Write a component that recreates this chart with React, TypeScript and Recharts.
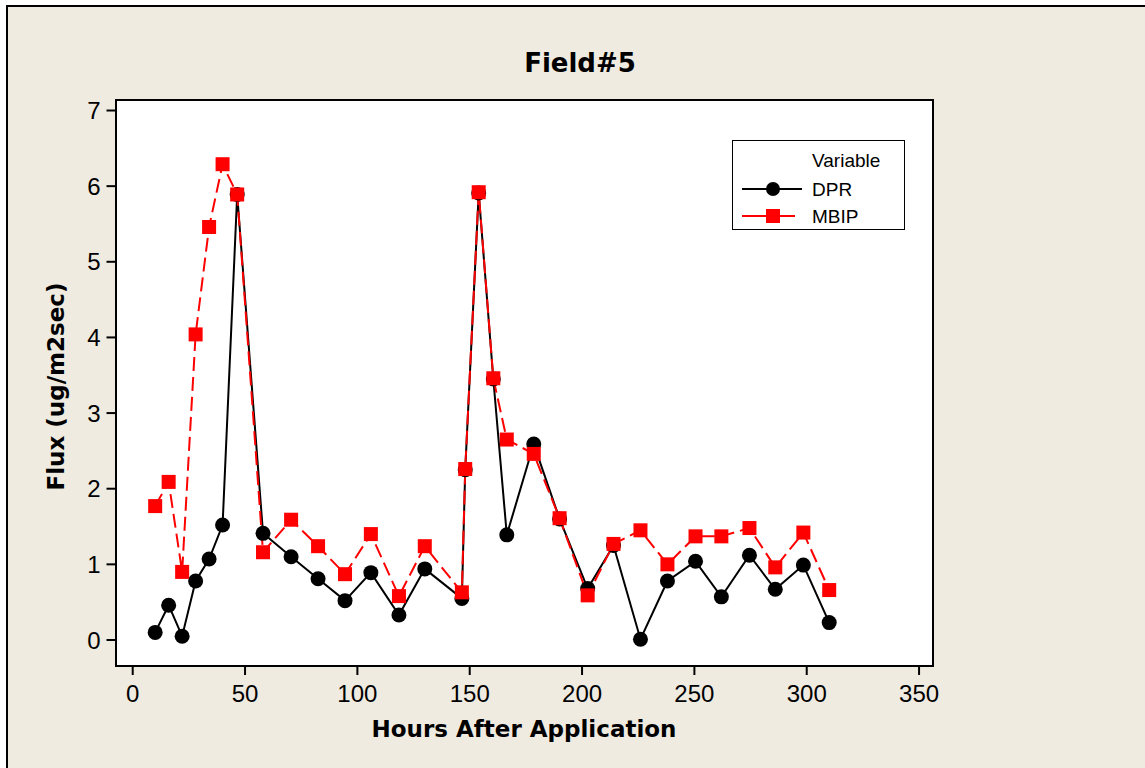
import React from "react";
import { Legend, Line, LineChart, XAxis, YAxis } from "recharts";

// hours after application (shared by both series)
const hours = [
	10, 16, 22, 28, 34, 40, 46.5, 58, 70.5, 82.5, 94.5, 106, 118.5, 130, 146.5, 148,
	154, 160.5, 166.5, 178.5, 190, 202.5, 214, 226, 238, 250.5, 262, 274.5, 286,
	298.5, 310,
];
const dpr = [
	0.1, 0.46, 0.05, 0.78, 1.07, 1.52, 5.89, 1.41, 1.1, 0.81, 0.52, 0.89, 0.33, 0.94,
	0.55, 2.25, 5.91, 3.45, 1.39, 2.59, 1.6, 0.68, 1.25, 0.01, 0.78, 1.04, 0.57, 1.12,
	0.67, 0.99, 0.23,
];
const mbip = [
	1.77, 2.09, 0.9, 4.04, 5.46, 6.29, 5.89, 1.16, 1.59, 1.24, 0.87, 1.4, 0.58, 1.24,
	0.63, 2.26, 5.92, 3.46, 2.65, 2.46, 1.61, 0.59, 1.27, 1.45, 1.0, 1.37, 1.37, 1.48,
	0.96, 1.42, 0.66,
];
const xTicks = [0, 50, 100, 150, 200, 250, 300, 350];
const yTicks = [0, 1, 2, 3, 4, 5, 6, 7];

const data = hours.map((h, i) => ({ hours: h, DPR: dpr[i], MBIP: mbip[i] }));

const BEIGE = "#EFEBE0";
const RED = "#FF0000";
const tickFont = { fill: "#000", fontSize: 24, fontFamily: "Liberation Sans" };
const boldFont = "DejaVu Sans";

const CircleDot = (props: any) => {
	const { cx, cy, index } = props;
	if (cx == null || cy == null) return null;
	return <circle key={`c${index}`} cx={cx} cy={cy} r={7.5} fill="#000" />;
};

const SquareDot = (props: any) => {
	const { cx, cy, index } = props;
	if (cx == null || cy == null) return null;
	return (
		<rect key={`s${index}`} x={cx - 7} y={cy - 7} width={14} height={14} fill={RED} />
	);
};

const renderLegend = () => (
	<div
		style={{
			width: 173,
			height: 90,
			boxSizing: "border-box",
			border: "1.5px solid #000",
			background: "#fff",
			position: "relative",
			fontFamily: "Liberation Sans",
			fontSize: 19,
			color: "#000",
		}}
	>
		<svg width={173} height={90} style={{ position: "absolute", left: -1.5, top: -1.5 }}>
			<text x={80} y={27} fontSize={19} fontFamily="Liberation Sans">
				Variable
			</text>
			<line x1={10} x2={70} y1={49} y2={49} stroke="#000" strokeWidth={2} />
			<circle cx={41} cy={49} r={7} fill="#000" />
			<text x={80} y={56} fontSize={19} fontFamily="Liberation Sans">
				DPR
			</text>
			<line x1={10} x2={63} y1={76} y2={76} stroke={RED} strokeWidth={2} />
			<rect x={34} y={69} width={14} height={14} fill={RED} />
			<text x={80} y={83} fontSize={19} fontFamily="Liberation Sans">
				MBIP
			</text>
		</svg>
	</div>
);

export default function App() {
	return (
		<div
			style={{
				position: "absolute",
				left: 0,
				top: 0,
				width: 1145,
				height: 768,
				background: "#fff",
				overflow: "hidden",
			}}
		>
			<div
				style={{
					position: "absolute",
					left: 6,
					top: 5,
					width: 2000,
					height: 2000,
					borderTop: "2px solid #000",
					borderLeft: "2px solid #000",
					background: BEIGE,
				}}
			/>
			{/* plot frame */}
			<div
				style={{
					position: "absolute",
					left: 114.5,
					top: 99,
					width: 819.5,
					height: 568,
					boxSizing: "border-box",
					border: "2px solid #000",
					background: "#fff",
				}}
			/>
			<div style={{ position: "absolute", left: 0, top: 0 }}>
				<LineChart
					width={1145}
					height={768}
					data={data}
					margin={{ top: 100, right: 212, bottom: 42, left: 55.5 }}
				>
					<XAxis
						dataKey="hours"
						type="number"
						domain={[-7.66, 356.2]}
						allowDataOverflow
						ticks={xTicks}
						interval={0}
						height={60}
						axisLine={false}
						tickLine={{ stroke: "#000", strokeWidth: 2 }}
						tickSize={9}
						tickMargin={10}
						tick={tickFont}
					/>
					<YAxis
						type="number"
						domain={[-0.344, 7.139]}
						allowDataOverflow
						ticks={yTicks}
						interval={0}
						width={60}
						axisLine={false}
						tickLine={{ stroke: "#000", strokeWidth: 2 }}
						tickSize={9}
						tickMargin={6}
						tick={tickFont}
					/>
					<Legend
						layout="vertical"
						align="center"
						verticalAlign="middle"
						content={renderLegend}
						wrapperStyle={{ left: 732, top: 140, width: 173, height: 90 }}
					/>
					<Line
						type="linear"
						dataKey="DPR"
						stroke="#000"
						strokeWidth={2}
						dot={CircleDot}
						activeDot={false}
						isAnimationActive={false}
					/>
					<Line
						type="linear"
						dataKey="MBIP"
						stroke={RED}
						strokeWidth={2}
						strokeDasharray="14 6"
						dot={SquareDot}
						activeDot={false}
						isAnimationActive={false}
					/>
				</LineChart>
			</div>
			<svg
				width={1145}
				height={768}
				style={{ position: "absolute", left: 0, top: 0, pointerEvents: "none" }}
			>
				<text
					x={580}
					y={72}
					textAnchor="middle"
					fontFamily={boldFont}
					fontWeight="bold"
					fontSize={26}
				>
					Field#5
				</text>
				<text
					x={524}
					y={737}
					textAnchor="middle"
					fontFamily={boldFont}
					fontWeight="bold"
					fontSize={23}
				>
					Hours After Application
				</text>
				<text
					x={0}
					y={0}
					textAnchor="middle"
					fontFamily={boldFont}
					fontWeight="bold"
					fontSize={23}
					transform="translate(64 386.5) rotate(-90)"
				>
					Flux (ug/m2sec)
				</text>
			</svg>
		</div>
	);
}
